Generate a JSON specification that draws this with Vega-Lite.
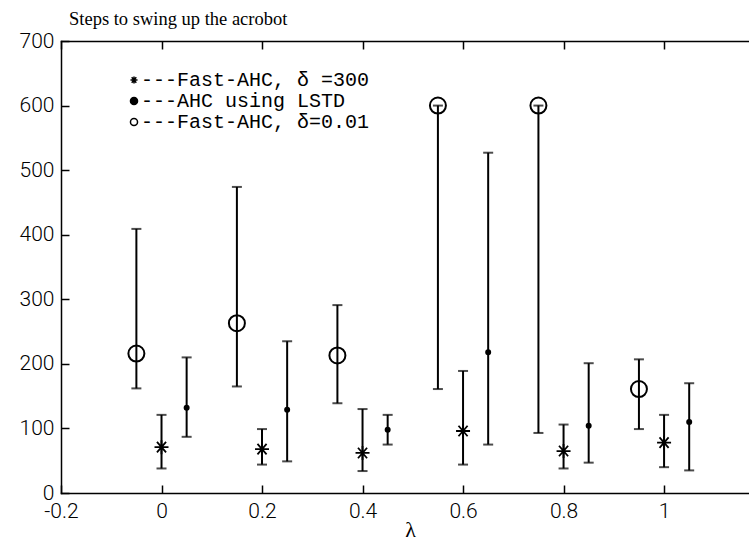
{
  "$schema": "https://vega.github.io/schema/vega-lite/v6.json",
  "width": 688,
  "height": 452,
  "autosize": "none",
  "padding": {"left": 61, "top": 41, "right": 0, "bottom": 51},
  "background": "white",
  "title": {
    "text": "Steps to swing up the acrobot",
    "anchor": "start",
    "frame": "group",
    "dx": 8,
    "offset": -13,
    "baseline": "alphabetic",
    "font": "Liberation Serif",
    "fontSize": 18.5,
    "fontWeight": "normal",
    "color": "black"
  },
  "data": {
    "values": [
      {"lambda": -0.05, "series": "---Fast-AHC, δ=0.01", "steps": 216, "low": 162, "high": 409},
      {"lambda": 0.15, "series": "---Fast-AHC, δ=0.01", "steps": 263, "low": 165, "high": 474},
      {"lambda": 0.35, "series": "---Fast-AHC, δ=0.01", "steps": 213, "low": 139, "high": 291},
      {"lambda": 0.55, "series": "---Fast-AHC, δ=0.01", "steps": 600, "low": 161, "high": 600},
      {"lambda": 0.75, "series": "---Fast-AHC, δ=0.01", "steps": 600, "low": 93, "high": 600},
      {"lambda": 0.95, "series": "---Fast-AHC, δ=0.01", "steps": 161, "low": 99, "high": 207},
      {"lambda": 0.0, "series": "---Fast-AHC, δ =300", "steps": 71, "low": 38, "high": 121},
      {"lambda": 0.2, "series": "---Fast-AHC, δ =300", "steps": 68, "low": 44, "high": 99},
      {"lambda": 0.4, "series": "---Fast-AHC, δ =300", "steps": 62, "low": 34, "high": 130},
      {"lambda": 0.6, "series": "---Fast-AHC, δ =300", "steps": 96, "low": 44, "high": 189},
      {"lambda": 0.8, "series": "---Fast-AHC, δ =300", "steps": 65, "low": 38, "high": 106},
      {"lambda": 1.0, "series": "---Fast-AHC, δ =300", "steps": 78, "low": 40, "high": 121},
      {"lambda": 0.05, "series": "---AHC using LSTD", "steps": 132, "low": 87, "high": 210},
      {"lambda": 0.25, "series": "---AHC using LSTD", "steps": 129, "low": 49, "high": 235},
      {"lambda": 0.45, "series": "---AHC using LSTD", "steps": 98, "low": 75, "high": 121},
      {"lambda": 0.65, "series": "---AHC using LSTD", "steps": 218, "low": 75, "high": 527},
      {"lambda": 0.85, "series": "---AHC using LSTD", "steps": 104, "low": 47, "high": 201},
      {"lambda": 1.05, "series": "---AHC using LSTD", "steps": 110, "low": 35, "high": 170}
    ]
  },
  "resolve": {"axis": {"x": "independent"}},
  "layer": [
    {
      "mark": {"type": "rule", "color": "black", "strokeWidth": 2},
      "encoding": {
        "x": {
          "field": "lambda", "type": "quantitative",
          "scale": {"domain": [-0.2, 1.169], "nice": false, "zero": false},
          "axis": {
            "orient": "bottom",
            "values": [-0.2, 0, 0.2, 0.4, 0.6, 0.8, 1],
            "labelExpr": "'' + datum.value",
            "tickSize": -8, "tickWidth": 1.5, "tickColor": "black",
            "domainColor": "black", "domainWidth": 1.5,
            "labelPadding": 15, "labelFlush": false, "labelOverlap": false,
            "labelFont": "Roboto", "labelFontSize": 21, "labelFontWeight": 300, "labelColor": "black",
            "grid": false,
            "title": "λ", "titleX": 349, "titleY": 36, "titleBaseline": "middle", "titleAlign": "center",
            "titleFont": "Liberation Serif", "titleFontSize": 22, "titleFontWeight": "normal", "titleColor": "black"
          }
        },
        "y": {
          "field": "low", "type": "quantitative",
          "scale": {"domain": [0, 700], "nice": false, "zero": true},
          "axis": {
            "values": [0, 100, 200, 300, 400, 500, 600, 700],
            "tickSize": -8, "tickWidth": 1.5, "tickColor": "black",
            "domainColor": "black", "domainWidth": 1.5,
            "labelPadding": 15, "labelFlush": false, "labelOverlap": false,
            "labelFont": "Roboto", "labelFontSize": 21, "labelFontWeight": 300, "labelColor": "black",
            "grid": false, "title": null
          }
        },
        "y2": {"field": "high"}
      }
    },
    {
      "mark": {"type": "tick", "orient": "horizontal", "size": 10, "thickness": 2, "color": "black"},
      "encoding": {
        "x": {"field": "lambda", "type": "quantitative", "axis": null},
        "y": {"field": "low", "type": "quantitative"}
      }
    },
    {
      "mark": {"type": "tick", "orient": "horizontal", "size": 10, "thickness": 2, "color": "black"},
      "encoding": {
        "x": {
          "field": "lambda", "type": "quantitative",
          "axis": {
            "orient": "top",
            "values": [-0.2, 0, 0.2, 0.4, 0.6, 0.8, 1],
            "labels": false,
            "tickSize": -8, "tickWidth": 1.5, "tickColor": "black",
            "domainColor": "black", "domainWidth": 1.5,
            "grid": false, "title": null
          }
        },
        "y": {"field": "high", "type": "quantitative"}
      }
    },
    {
      "transform": [{"filter": "datum.series === '---Fast-AHC, δ =300'"}],
      "mark": {"type": "point", "size": 196, "strokeWidth": 1.8, "opacity": 1},
      "encoding": {
        "x": {"field": "lambda", "type": "quantitative", "axis": null},
        "y": {"field": "steps", "type": "quantitative"},
        "shape": {
          "field": "series", "type": "nominal",
          "scale": {
            "domain": ["---Fast-AHC, δ =300", "---AHC using LSTD", "---Fast-AHC, δ=0.01"],
            "range": ["M-1,0L1,0M0,-1L0,1M-0.65,-0.75L0.65,0.75M-0.65,0.75L0.65,-0.75", "circle", "circle"]
          },
          "legend": {
            "title": null, "orient": "none", "legendX": 63, "legendY": 29,
            "labelFont": "Liberation Mono", "labelFontSize": 20, "labelColor": "black", "labelLimit": 0,
            "symbolSize": 50, "labelOffset": -3, "rowPadding": 1, "padding": 0,
            "symbolStrokeWidth": 1.5
          }
        },
        "fill": {
          "field": "series", "type": "nominal",
          "scale": {
            "domain": ["---Fast-AHC, δ =300", "---AHC using LSTD", "---Fast-AHC, δ=0.01"],
            "range": ["transparent", "black", "transparent"]
          },
          "legend": {
            "title": null, "orient": "none", "legendX": 63, "legendY": 29,
            "labelFont": "Liberation Mono", "labelFontSize": 20, "labelColor": "black", "labelLimit": 0,
            "symbolSize": 50, "labelOffset": -3, "rowPadding": 1, "padding": 0,
            "symbolStrokeWidth": 1.5
          }
        },
        "stroke": {
          "field": "series", "type": "nominal",
          "scale": {
            "domain": ["---Fast-AHC, δ =300", "---AHC using LSTD", "---Fast-AHC, δ=0.01"],
            "range": ["black", "black", "black"]
          },
          "legend": {
            "title": null, "orient": "none", "legendX": 63, "legendY": 29,
            "labelFont": "Liberation Mono", "labelFontSize": 20, "labelColor": "black", "labelLimit": 0,
            "symbolSize": 50, "labelOffset": -3, "rowPadding": 1, "padding": 0,
            "symbolStrokeWidth": 1.5
          }
        }
      }
    },
    {
      "transform": [{"filter": "datum.series === '---AHC using LSTD'"}],
      "mark": {"type": "point", "size": 16, "strokeWidth": 2, "opacity": 1},
      "encoding": {
        "x": {"field": "lambda", "type": "quantitative", "axis": null},
        "y": {"field": "steps", "type": "quantitative"},
        "shape": {"field": "series", "type": "nominal"},
        "fill": {"field": "series", "type": "nominal"},
        "stroke": {"field": "series", "type": "nominal"}
      }
    },
    {
      "transform": [{"filter": "datum.series === '---Fast-AHC, δ=0.01'"}],
      "mark": {"type": "point", "size": 256, "strokeWidth": 2, "opacity": 1},
      "encoding": {
        "x": {"field": "lambda", "type": "quantitative", "axis": null},
        "y": {"field": "steps", "type": "quantitative"},
        "shape": {"field": "series", "type": "nominal"},
        "fill": {"field": "series", "type": "nominal"},
        "stroke": {"field": "series", "type": "nominal"}
      }
    }
  ],
  "config": {
    "view": {"stroke": null},
    "axis": {"domainCap": "square"}
  }
}
